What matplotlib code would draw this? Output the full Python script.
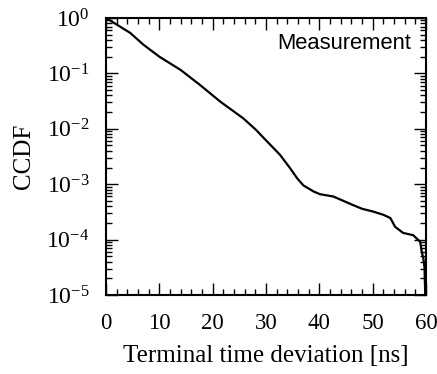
import numpy as np
import matplotlib
matplotlib.use("Agg")
import matplotlib.pyplot as plt
from matplotlib.ticker import MultipleLocator, LogLocator, NullFormatter


# Config

plt.rcParams["font.family"] = ["Liberation Serif", "DejaVu Serif"]
plt.rcParams["mathtext.fontset"] = "custom"
plt.rcParams["mathtext.rm"] = "Liberation Serif"
plt.rcParams["mathtext.it"] = "Liberation Serif:italic"


# Data

Deviation_ns = [0, 2, 4.5, 7, 10, 14, 17.6, 21.4, 25.7, 28, 30.2, 32.6, 34.5,
                35.8, 37, 38.9, 40.1, 42.6, 44.5, 46.3, 48, 50.1, 52, 53.3,
                54.2, 55.7, 57.6, 58.9, 59.2, 59.5, 59.7, 59.85]

CCDF = [1.0, 0.76, 0.54, 0.33, 0.20, 0.115, 0.062, 0.031, 0.0155, 0.0098,
        0.0059, 0.0034, 0.00195, 0.00129, 0.00095, 0.00074, 0.00066, 0.0006,
        0.0005, 0.00042, 0.00036, 0.00032, 0.00028, 0.000245, 0.00017,
        0.000132, 0.00012, 0.000091, 0.00006, 0.000045, 0.000032, 0.00001]

X_Ticks = [0, 10, 20, 30, 40, 50, 60]


# Plotting

fig = plt.figure(figsize=(4.37, 3.74), dpi=100)
ax = fig.add_axes([0.2426, 0.2112, 0.7324, 0.7408])

ax.plot(Deviation_ns, CCDF, color="black", linewidth=1.6)

ax.set_yscale("log")
ax.set_xlim(0, 60)
ax.set_ylim(1e-5, 1)

ax.set_xticks(X_Ticks)
ax.xaxis.set_minor_locator(MultipleLocator(2))
ax.yaxis.set_major_locator(LogLocator(base=10, numticks=10))
ax.yaxis.set_minor_locator(LogLocator(base=10, subs=np.arange(2, 10), numticks=20))
ax.yaxis.set_minor_formatter(NullFormatter())

ax.tick_params(which="both", direction="in", top=True, right=True, width=1.0)
ax.tick_params(which="major", length=8.5)
ax.tick_params(which="minor", length=4.5)
ax.tick_params(axis="x", which="major", pad=13, labelsize=16.5)
ax.tick_params(axis="y", which="major", pad=12, labelsize=17)

for s in ax.spines.values():
    s.set_linewidth(1.5)

ax.set_xlabel("Terminal time deviation [ns]", fontsize=18, labelpad=8)
ax.set_ylabel("CCDF", fontsize=18)
ax.yaxis.set_label_coords(-0.222, 0.5)

ax.text(0.953, 0.908, "Measurement", transform=ax.transAxes, ha="right", va="center",
        fontsize=15.8, family=["Liberation Sans", "DejaVu Sans"])

plt.savefig("out.png", dpi=100)
